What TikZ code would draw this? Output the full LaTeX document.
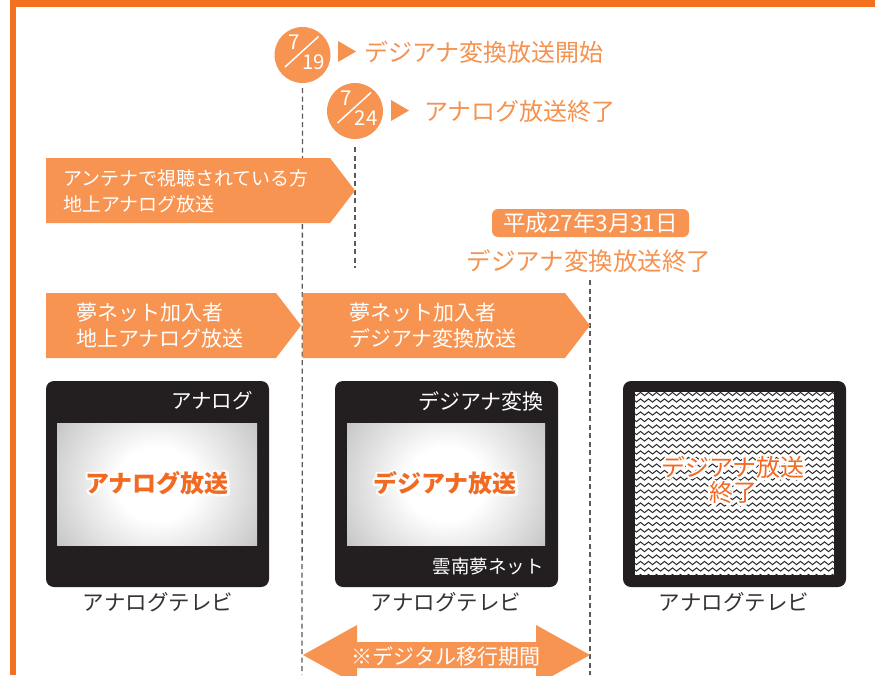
\documentclass[tikz,border=0pt]{standalone}
\usepackage{fontspec}
\setmainfont{Noto Sans CJK JP}
\usetikzlibrary{decorations.pathmorphing}

\definecolor{frameor}{HTML}{F37021}
\definecolor{banneror}{HTML}{F79452}
\definecolor{heador}{HTML}{F5924F}
\definecolor{screenor}{HTML}{F26A22}
\definecolor{tvbody}{HTML}{231F20}
\definecolor{dashgray}{HTML}{5A5A5A}
\definecolor{captiongray}{HTML}{333333}

% soft light in the middle of a TV screen, darker towards the edges
\pgfdeclareradialshading{screenglow}{\pgfpoint{0bp}{0bp}}{%
  color(0bp)=(white); color(10bp)=(white); color(28bp)=(black!20);
  color(50bp)=(black!55); color(72bp)=(black!62)}

\newcommand{\fsz}[2]{\fontsize{#1}{#2}\selectfont}
% glyphs stroked only (text render mode 1), used for the white halo
\newcommand{\strokedtext}[1]{%
  \special{pdf:literal direct 1 Tr 4.2 w 1 j}#1\special{pdf:literal direct 0 Tr 1 w 0 j}}

\tikzset{
  banner/.style={fill=banneror},
  bannertext/.style={text=white, anchor=west, align=left, inner sep=0pt},
  headtext/.style={text=heador, anchor=west, inner sep=0pt, font=\fsz{24}{26}},
  datecircle/.style={circle, fill=banneror, minimum size=56pt, inner sep=0pt},
  datenum/.style={text=white, inner sep=0pt, font=\fsz{20.5}{21}},
  dashline/.style={draw=dashgray, line width=1.3pt, dash pattern=on 5pt off 3.5pt},
  tvframe/.style={fill=tvbody, rounded corners=8pt},
  tvlabel/.style={text=white, anchor=east, inner sep=0pt},
  caption/.style={text=captiongray, inner sep=0pt, font=\fsz{21.5}{24}},
  screentext/.style={text=screenor, inner sep=0pt, align=center, font=\fsz{24}{25}\bfseries},
  wave/.style={draw=black!85, line width=1pt, decorate,
    decoration={snake, segment length=8pt, amplitude=1.6pt}},
}

% orange lettering with a white halo
\newcommand{\glowlabel}[4][]{%
  \node[screentext, #1, text=white] (#2-halo) at (#3) {\strokedtext{#4}};
  \node[screentext, #1] (#2) at (#3) {#4};}

\begin{document}
\begin{tikzpicture}[x=1pt, y=-1pt]
\useasboundingbox (0,0) rectangle (875,675);
\fill[white] (0,0) rectangle (875,675);

% page frame
\fill[frameor] (10,0) rectangle (875,7);
\fill[frameor] (10,0) rectangle (16,675);

% start and end dates
\node[datecircle] (c1) at (302.5,55) {};
\draw[white, line width=1.5pt] ([shift={(-17.5pt,-12pt)}]c1.center) -- ([shift={(16pt,18.5pt)}]c1.center);
\node[datenum] (c1a) at ([shift={(-8.5pt,13pt)}]c1.center) {7};
\node[datenum] (c1b) at ([shift={(11pt,-7.5pt)}]c1.center) {19};

\node[datecircle] (c2) at (355,111) {};
\draw[white, line width=1.5pt] ([shift={(-17.5pt,-12pt)}]c2.center) -- ([shift={(16pt,18.5pt)}]c2.center);
\node[datenum] (c2a) at ([shift={(-8.5pt,13pt)}]c2.center) {7};
\node[datenum] (c2b) at ([shift={(11pt,-7.5pt)}]c2.center) {24};

\fill[heador] (338,41) -- (356,51.5) -- (338,62) -- cycle;
\node[headtext] (h1) at (364,52) {デジアナ変換放送開始};
\fill[heador] (391,100) -- (409,110.5) -- (391,121) -- cycle;
\node[headtext] (h2) at (424,111) {アナログ放送終了};

% time markers
\draw[dashline] ([yshift=-5pt]c1.south) -- (302,675);
\draw[dashline] ([yshift=-8pt]c2.south) -- (355,268);
\coordinate (endtop) at (590,280);
\draw[dashline] (endtop) -- (590,675);

% antenna viewers
\fill[banner] (46,158) -- (330,158) -- (355,190.5) -- (330,223) -- (46,223) -- cycle;
\node[bannertext, font=\fsz{19}{26}] (b1) at (63,191) {アンテナで視聴されている方\\地上アナログ放送};

% end of the conversion service
\fill[banneror, rounded corners=6pt] (492,209) rectangle (689,237);
\node[text=white, inner sep=0pt, font=\fsz{22.5}{24}] (d3) at (590.5,223) {平成27年3月31日};
\node[text=heador, inner sep=0pt, font=\fsz{24.5}{26}] (d3b) at (589,261) {デジアナ変換放送終了};

% subscriber periods
\fill[banner] (46,293) -- (276,293) -- (301,325.5) -- (276,358) -- (46,358) -- cycle;
\node[bannertext, font=\fsz{21}{26.5}] (b2) at (76,325.5) {夢ネット加入者\\地上アナログ放送};
\fill[banner] (302.5,293) -- (565,293) -- (590,325.5) -- (565,358) -- (302.5,358) -- cycle;
\node[bannertext, font=\fsz{21}{26.5}] (b3) at (349,325.5) {夢ネット加入者\\デジアナ変換放送};

% analogue set
\fill[tvframe] (46,381) rectangle (269,587);
\begin{scope}
  \clip (57,423) rectangle (257,545);
  \shade[shading=screenglow] (57,392) rectangle (257,576);
\end{scope}
\node[tvlabel, font=\fsz{20.5}{22}] (t1) at (253,401) {アナログ};
\glowlabel{s1}{157,483}{アナログ放送}
\node[caption] (cap1) at (158,602) {アナログテレビ};

% converted set
\fill[tvframe] (335,381) rectangle (558,587);
\begin{scope}
  \clip (347,423) rectangle (545,545);
  \shade[shading=screenglow] (347,392) rectangle (545,576);
\end{scope}
\node[tvlabel, font=\fsz{21}{22}] (t2) at (544,401) {デジアナ変換};
\node[tvlabel, font=\fsz{18.5}{22}] (t3) at (544,567) {雲南夢ネット};
\glowlabel{s2}{445,483}{デジアナ放送}
\node[caption] (cap2) at (446,602) {アナログテレビ};

% set after the service ends
\fill[tvframe] (623,381) rectangle (846,587);
\fill[white] (635,392) rectangle (834,575);
\begin{scope}
  \clip (635,392) rectangle (834,575);
  \foreach \row in {0,...,28}{
    \draw[wave] (630,394+6.5*\row) -- (840,394+6.5*\row);
  }
\end{scope}
\glowlabel[font=\fsz{24}{25.5}]{s3}{733,480}{デジアナ放送\\終了}
\node[caption] (cap3) at (734,602) {アナログテレビ};

% transition period
\fill[banneror] (303,655) -- (357,625) -- (357,642) -- (536,642) -- (536,625)
  -- (590,655) -- (536,685) -- (536,668) -- (357,668) -- (357,685) -- cycle;
\node[text=white, inner sep=0pt, font=\fsz{21}{24}] (period) at (446,656) {※デジタル移行期間};
\end{tikzpicture}
\end{document}
